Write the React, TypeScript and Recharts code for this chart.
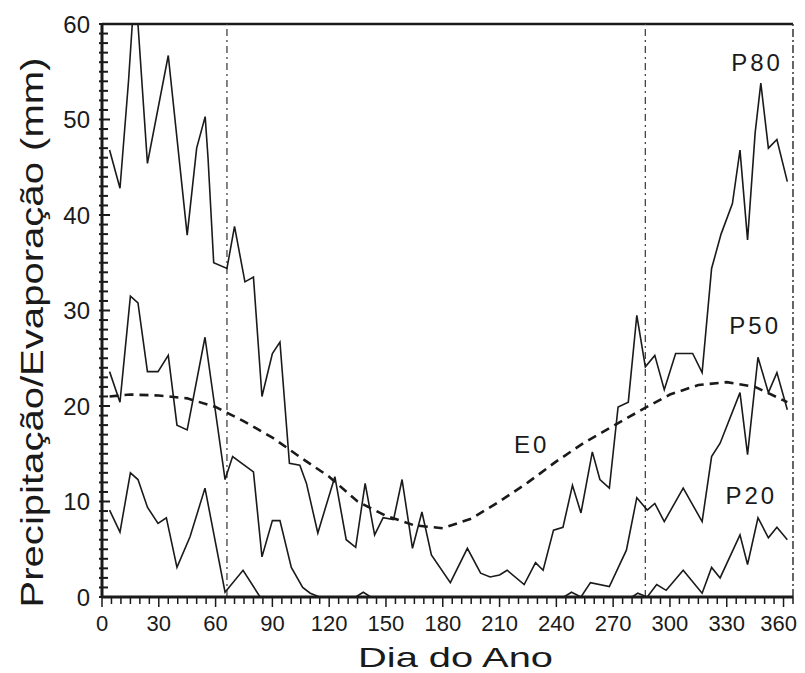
import React from 'react';
import { LineChart, Line, XAxis, YAxis, ReferenceLine, ReferenceDot, Label } from 'recharts';

// [dia do ano, mm]
const P80: [number, number][] = [
  [4, 46.8], [9.5, 42.8], [14, 54], [16, 60], [19, 60], [24, 45.4], [35, 56.7], [45, 37.9],
  [50, 47], [54.5, 50.3], [56, 46], [59, 35], [66, 34.4], [70, 38.8], [75.5, 33], [80, 33.5],
  [84.5, 21], [90, 25.5], [94, 26.7], [99, 14], [104.5, 13.8], [108, 11.9], [114, 6.7],
  [123, 12.6], [129, 6], [134, 5.2], [139, 11.9], [144, 6.5], [148.5, 8.3], [154, 8.1],
  [158.5, 12.3], [164, 5.1], [169, 8.9], [174, 4.4], [184, 1.5], [193, 5.1], [200, 2.5],
  [205, 2.1], [210, 2.3], [214, 2.8], [223, 1.3], [229, 3.6], [233, 2.8], [238.5, 7],
  [243.5, 7.3], [248.5, 11.7], [253, 8.8], [259, 15.2], [263, 12.3], [268, 11.4],
  [272.6, 19.9], [278, 20.4], [282.5, 29.5], [287, 24.1], [292, 25.3], [297, 21.7],
  [303, 25.5], [312, 25.5], [317, 23.5], [322, 34.4], [327, 38], [333, 41.2], [337, 46.8],
  [341, 37.4], [345, 48.6], [348, 53.8], [352, 47], [356.5, 47.9], [362, 43.5],
];

const P50: [number, number][] = [
  [4, 23.6], [9.5, 20.4], [15, 31.5], [19, 30.8], [24, 23.6], [29.6, 23.6], [35, 25.3],
  [39.6, 18], [45, 17.5], [54.4, 27.2], [65, 12.3], [69, 14.7], [80, 13.1], [84.5, 4.2],
  [90, 8], [94, 8], [100, 3.1], [106, 1], [110, 0.4], [115, 0], [134, 0], [138, 0.5],
  [142, 0], [244, 0], [248, 0.5], [253, 0], [258, 1.5], [268, 1.1], [277, 4.9],
  [282.5, 10.4], [288, 9.1], [292, 9.8], [297, 7.9], [307, 11.4], [317, 7.9], [322, 14.7],
  [326.5, 16.1], [337, 21.4], [341, 14.9], [346.5, 25.1], [352, 21.4], [356.5, 23.5], [362, 19.6],
];

const P20: [number, number][] = [
  [4, 9.1], [9.5, 6.8], [15, 13], [19, 12.3], [24, 9.4], [29.6, 7.7], [34, 8.3], [39.6, 3.1],
  [46.5, 6.3], [54.4, 11.4], [65, 0.5], [74.5, 2.8], [83.5, 0], [280, 0], [283, 0.4], [288, 0],
  [293, 1.3], [298, 0.7], [307, 2.8], [317, 0.4], [322, 3.1], [326.5, 2], [337, 6.5],
  [341, 3.4], [346.5, 8.3], [352, 6.2], [356.5, 7.3], [362, 6],
];

const E0: [number, number][] = [
  [4, 21], [15, 21.2], [30, 21.1], [45, 20.8], [60, 19.9], [75, 18.4], [90, 16.7], [105, 14.6],
  [120, 12.6], [135, 10], [150, 8.5], [165, 7.5], [180, 7.2], [195, 8.2], [210, 10], [225, 12],
  [240, 14.2], [255, 16.2], [270, 17.9], [285, 19.6], [300, 21.2], [315, 22.2], [330, 22.5],
  [345, 22], [362, 20.4],
];

const xTicks = Array.from({ length: 74 }, (_, i) => i * 5);
const yTicks = Array.from({ length: 61 }, (_, i) => i);
const marcos = [66, 287];

const FONT = '"Liberation Sans", Arial, sans-serif';
const INK = '#1a1a1a';

const toRows = (pts: [number, number][]) => pts.map(([dia, v]) => ({ dia, v }));

function XTick(props: any) {
  const { x, y, payload } = props;
  const major = payload.value % 30 === 0;
  return (
    <g>
      <line x1={x} x2={x} y1={y} y2={y + (major ? 10 : 7)} stroke={INK} strokeWidth={1.5} />
      {major && (
        <text x={x} y={y + 26} dx={payload.value === 360 ? -5 : 0} textAnchor="middle"
          dominantBaseline="central" fontSize={22} fontFamily={FONT} fill={INK}>{payload.value}</text>
      )}
    </g>
  );
}

function YTick(props: any) {
  const { x, y, payload } = props;
  const major = payload.value % 10 === 0;
  return (
    <g>
      <line x1={x - 3} x2={x + (major ? 8 : 6)} y1={y} y2={y} stroke={INK} strokeWidth={2} />
      {major && (
        <text x={x - 12} y={y} textAnchor="end" dominantBaseline="central"
          fontSize={24} fontFamily={FONT} fill={INK}>{payload.value}</text>
      )}
    </g>
  );
}

const seriesLabel = (value: string) => ({
  value, position: 'center' as const, fontSize: 24, fontFamily: FONT, fill: INK, letterSpacing: 3,
});

export default function App() {
  return (
    <div style={{ width: 797, height: 665 }}>
      <style>{`body{overflow:hidden}`}</style>
      <LineChart width={797} height={665} margin={{ top: 16, right: 12, left: 34, bottom: 26 }}>
        <XAxis dataKey="dia" type="number" domain={[0, 365]} ticks={xTicks} interval={0}
          allowDataOverflow tick={<XTick />} tickSize={0} tickMargin={0} height={50}
          axisLine={{ stroke: INK, strokeWidth: 3 }} tickLine={false}>
          <Label content={(p: any) => (
            <text x={p.viewBox.x + p.viewBox.width / 2 + 8} y={p.viewBox.y + 70} textAnchor="middle"
              fontSize={28} fontFamily={FONT} fill={INK} textLength={195}
              lengthAdjust="spacingAndGlyphs">Dia do Ano</text>
          )} />
        </XAxis>
        <YAxis type="number" domain={[0, 60]} ticks={yTicks} interval={0} allowDataOverflow
          tick={<YTick />} tickSize={0} tickMargin={0} width={60}
          axisLine={{ stroke: INK, strokeWidth: 3 }} tickLine={false}>
          <Label content={(p: any) => {
            const cx = p.viewBox.x + 1;
            const cy = p.viewBox.y + p.viewBox.height / 2 + 22;
            return (
              <text x={cx} y={cy} transform={`rotate(-90 ${cx} ${cy})`} textAnchor="middle"
                fontSize={32} fontFamily={FONT} fill={INK} textLength={550}
                lengthAdjust="spacingAndGlyphs">Precipitação/Evaporação (mm)</text>
            );
          }} />
        </YAxis>

        <ReferenceLine y={60} stroke={INK} strokeWidth={2.5} />
        <ReferenceLine x={365} stroke="#333" strokeWidth={1.5} strokeDasharray="8 3 2 3" />
        {marcos.map((d) => (
          <ReferenceLine key={d} x={d} stroke="#444" strokeWidth={1.3} strokeDasharray="7 4 2 4" />
        ))}

        <Line data={toRows(P80)} dataKey="v" type="linear" stroke={INK} strokeWidth={1.6}
          dot={false} isAnimationActive={false} />
        <Line data={toRows(P50)} dataKey="v" type="linear" stroke={INK} strokeWidth={1.6}
          dot={false} isAnimationActive={false} />
        <Line data={toRows(P20)} dataKey="v" type="linear" stroke={INK} strokeWidth={1.6}
          dot={false} isAnimationActive={false} />
        <Line data={toRows(E0)} dataKey="v" type="linear" stroke={INK} strokeWidth={2.6}
          strokeDasharray="9 6" dot={false} isAnimationActive={false} />

        <ReferenceDot x={346} y={56} r={1} fill="none" stroke="none" label={seriesLabel('P80')} />
        <ReferenceDot x={345} y={28.4} r={1} fill="none" stroke="none" label={seriesLabel('P50')} />
        <ReferenceDot x={343} y={10.6} r={1} fill="none" stroke="none" label={seriesLabel('P20')} />
        <ReferenceDot x={227} y={16} r={1} fill="none" stroke="none" label={seriesLabel('E0')} />
      </LineChart>
    </div>
  );
}
